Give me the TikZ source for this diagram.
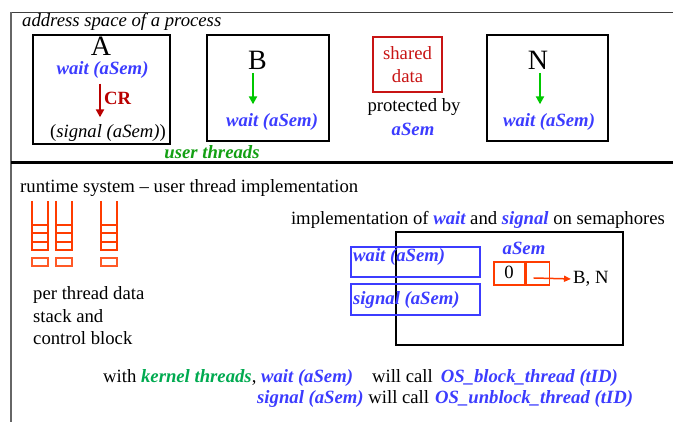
\documentclass[tikz,border=0pt]{standalone}
\usepackage{fontspec}
\setmainfont{Liberation Serif}
\usetikzlibrary{arrows.meta,positioning}
\definecolor{semblue}{RGB}{60,60,255}
\definecolor{thrgreen}{RGB}{0,200,0}
\definecolor{utgreen}{RGB}{20,160,20}
\definecolor{kgreen}{RGB}{0,170,80}
\definecolor{shred}{RGB}{200,20,20}
\definecolor{crred}{RGB}{185,0,0}
\definecolor{stkred}{RGB}{255,60,0}
\newcommand\basesize{\fontsize{18.7}{22.5}\selectfont}
\newcommand\emc[2]{{\color{#1}\bfseries\itshape #2}}
\tikzset{
  thr/.style={draw, line width=1.2pt, minimum height=106},
  big/.style={font=\fontsize{28}{30}\selectfont, inner sep=0pt},
  call/.style={font=\basesize\bfseries\itshape, text=semblue, inner sep=0pt},
  garr/.style={draw=thrgreen, line width=2pt, -{Triangle[length=8pt,width=8pt]}},
  stk/.style={draw=stkred, line width=2pt},
  opbox/.style={draw=semblue, line width=2pt, minimum width=129, inner sep=0pt},
  cell/.style={draw=stkred, line width=1.2pt, minimum height=23, inner sep=0pt}
}

\begin{document}
\begin{tikzpicture}[x=1pt, y=-1pt, font=\basesize, inner sep=0pt]
\useasboundingbox (0,0) rectangle (673,422);
% frame of the process
\draw[line width=1pt, black!75] (11,12.5) -- (673,12.5);
\draw[line width=1.5pt, black!60] (11,12) -- (11,422);
\draw[line width=3pt] (11,163) -- (673,163);
\node[anchor=west, font=\basesize\itshape] (as) at (22,22) {address space of a process};

% thread A
\node[thr, minimum width=137, minimum height=109] (boxA) at (101.5,89.5) {};
\node[big] (A) at (101,46.5) {A};
\node[call] (wA) at (102.5,70) {wait (aSem)};
\node (sA) at (108,133) {(\textit{signal (aSem)})};
\draw[draw=crred, line width=2.5pt, -{Triangle[length=8pt,width=8pt]}, shorten <=5pt, shorten >=7pt] (wA.south -| 100,0) -- (sA.north -| 100,0);
\node[anchor=west, font=\basesize\bfseries, text=crred] (cr) at (104,98) {CR};

% thread B
\node[thr, minimum width=122] (boxB) at (268,88) {};
\node[big] (B) at (257.5,60.5) {B};
\node[call] (wB) at (272,122) {wait (aSem)};
\draw[garr, shorten <=3pt, shorten >=9pt] (B.south -| 253,0) -- (wB.north -| 253,0);
\node[call, text=utgreen] (ut) at (212,152) {user threads};

% shared data
\node[draw=shred, line width=1.2pt, minimum width=69, minimum height=55, align=center, text=shred] (sd) at (407.5,64.5) {shared\\data};
\node (pb) at (414,107) {protected by};
\node[call] (sem) at (413,129) {aSem};

% thread N
\node[thr, minimum width=121] (boxN) at (547.5,88) {};
\node[big] (N) at (538,60.5) {N};
\node[call] (wN) at (549,122) {wait (aSem)};
\draw[garr, shorten <=3pt, shorten >=9pt] (N.south -| 540,0) -- (wN.north -| 540,0);

% runtime system
\node[anchor=west] (rt) at (20,188) {runtime system -- user thread implementation};
\foreach \x in {32,56,101} {
  \draw[stk] (\x,201) -- (\x,250) -- (\x+16,250) -- (\x+16,201);
  \foreach \y in {225,233,242}
    \draw[stk] (\x,\y) -- (\x+16,\y);
  \draw[draw=stkred!85, line width=1.5pt] (\x,258) rectangle (\x+16,266);
}
\node[anchor=west, align=left] (ptd) at (33,316) {per thread data\\stack and\\control block};

% semaphore implementation
\node (impl) at (478,220) {implementation of \emc{semblue}{wait} and \emc{semblue}{signal} on semaphores};
\draw[line width=1.2pt] (396,232) rectangle (623,345);
\node[opbox, minimum height=30] (wbox) at (415.5,262) {};
\node[opbox, minimum height=31] (sbox) at (415.5,299.5) {};
\node[call, anchor=west] (wop) at (353,257) {wait (aSem)};
\node[call, anchor=west] (sop) at (353,300) {signal (aSem)};
\node[call] (semname) at (524,248) {aSem};
\node[cell, minimum width=31] (c0) at (509.5,273.5) {};
\node (zero) at (509,272) {0};
\node[cell, minimum width=23, right=0pt of c0] (c1) {};
\node[anchor=west] (bn) at (573,279) {B, N};
\draw[draw=stkred, line width=1.5pt, -{Triangle[length=7pt,width=6pt]}, shorten >=2pt] ([xshift=-4pt,yshift=-4.5pt]c1.center) -- (bn.west);

% kernel threads
\node[anchor=west] (k1) at (103,378) {with \emc{kgreen}{kernel threads}, \emc{semblue}{wait (aSem)}\hspace{19pt}will call\hspace{8pt}\emc{semblue}{OS\_block\_thread (tID)}};
\node[anchor=west] (k2) at (257,399) {\emc{semblue}{signal (aSem)} will call\hspace{6pt}\emc{semblue}{OS\_unblock\_thread (tID)}};
\end{tikzpicture}
\end{document}
